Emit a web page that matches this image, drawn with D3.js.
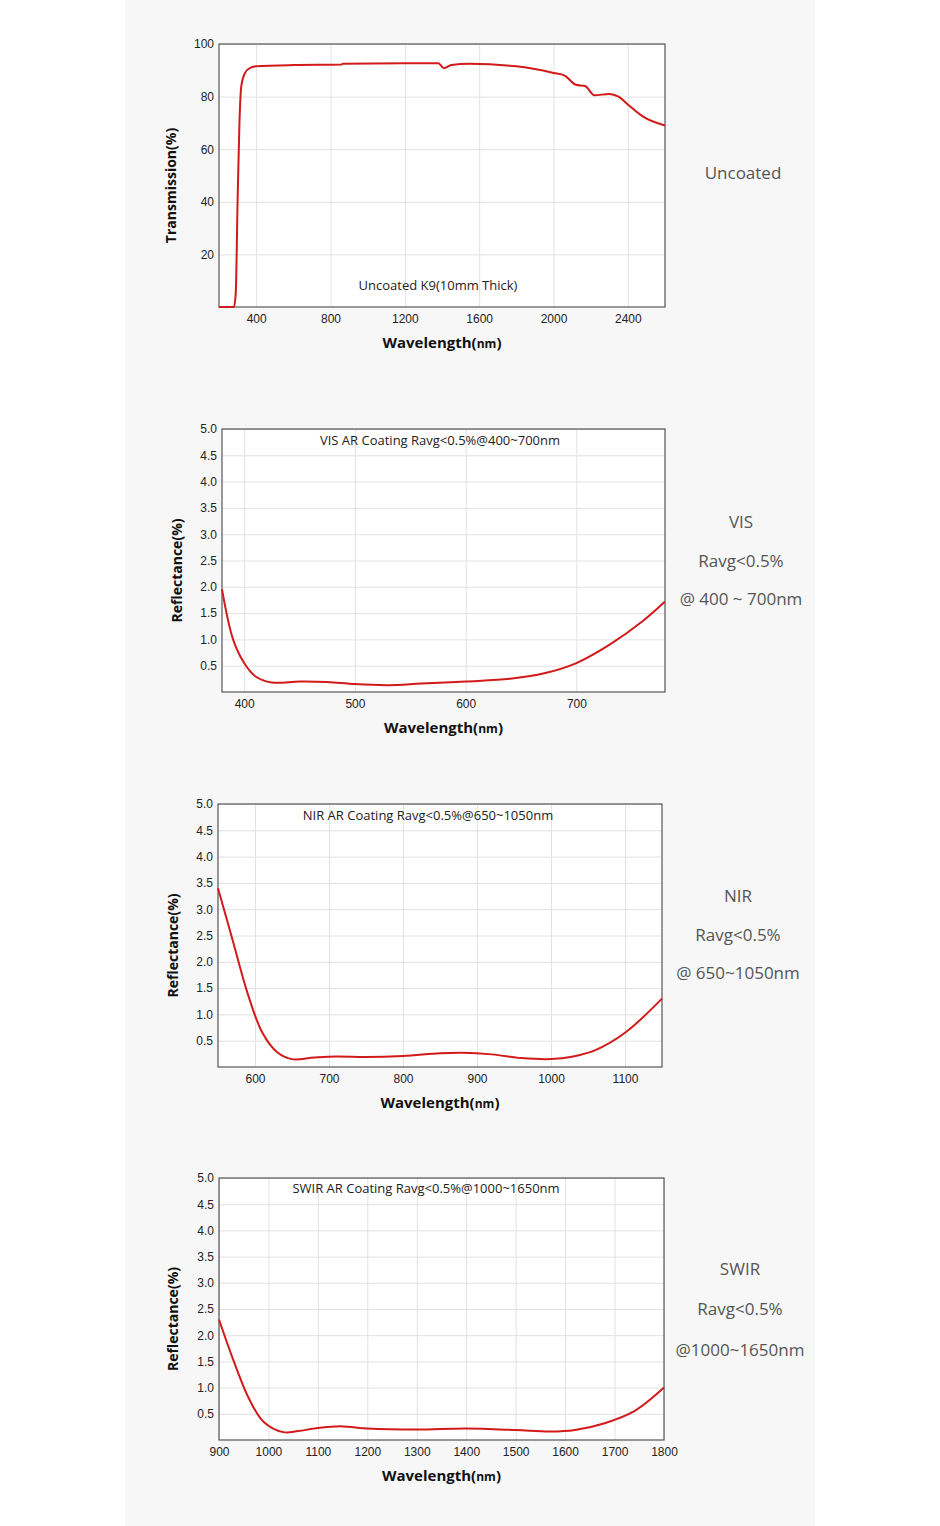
<!DOCTYPE html>
<html><head><meta charset="utf-8">
<script src="https://cdn.jsdelivr.net/npm/d3@7"></script>
<style>body{margin:0;background:#fff}</style></head>
<body><svg id="c" width="940" height="1526"></svg>
<script>
const uncoatedWl = [200,280,290,300,310,320,340,370,400,600,860,865,1200,1380,1410,1450,1550,1800,2000,2060,2120,2170,2220,2300,2350,2400,2480,2600];
const uncoatedT  = [0,0,5,40,70,84,89,91,91.5,92,92.2,92.5,92.7,92.7,90.8,92,92.5,91.5,89,88,84.5,84,80.5,81,80,77,72.5,69];
const visWl = [380,390,400,410,425,450,475,500,530,560,600,640,670,700,730,760,780];
const visR  = [1.95,1.0,0.55,0.3,0.18,0.2,0.19,0.15,0.13,0.16,0.2,0.25,0.35,0.55,0.9,1.35,1.72];
const nirWl = [550,570,590,610,630,650,680,710,750,800,850,880,920,960,1000,1030,1060,1100,1150];
const nirR  = [3.4,2.4,1.4,0.65,0.28,0.15,0.18,0.2,0.19,0.21,0.26,0.27,0.24,0.17,0.15,0.2,0.32,0.65,1.3];
const swirWl = [900,930,960,990,1030,1060,1100,1150,1200,1300,1400,1500,1570,1620,1680,1740,1800];
const swirR  = [2.3,1.5,0.8,0.35,0.15,0.17,0.23,0.26,0.22,0.2,0.22,0.19,0.16,0.19,0.32,0.55,1.0];
const transTicks = [20,40,60,80,100];
const reflTicks = [0.5,1,1.5,2,2.5,3,3.5,4,4.5,5];

const svg = d3.select("#c");
svg.append("rect").attr("x",125).attr("y",0).attr("width",690).attr("height",1526).attr("fill","#f7f7f7");

const charts = [
 {wl:uncoatedWl,v:uncoatedT,xd:[200,2600],yd:[0,100],xt:[400,800,1200,1600,2000,2400],yt:transTicks,fmt:d3.format("d"),
  box:[219,44,665,307],ytitle:"Transmission(%)",inner:"Uncoated K9(10mm Thick)",innerY:290,innerX:438,curve:d3.curveMonotoneX,
  side:[["Uncoated",173]],sideX:743,ytx:176},
 {wl:visWl,v:visR,xd:[380,780],yd:[0,5],xt:[400,500,600,700],yt:reflTicks,fmt:d3.format(".1f"),
  box:[222,429,665,692],ytitle:"Reflectance(%)",inner:"VIS AR Coating Ravg<0.5%@400~700nm",innerY:445,innerX:440,curve:d3.curveCatmullRom,
  side:[["VIS",522],["Ravg<0.5%",561],["@ 400 ~ 700nm",599]],sideX:741,ytx:182},
 {wl:nirWl,v:nirR,xd:[550,1150],yd:[0,5],xt:[600,700,800,900,1000,1100],yt:reflTicks,fmt:d3.format(".1f"),
  box:[218,804,662,1067],ytitle:"Reflectance(%)",inner:"NIR AR Coating Ravg<0.5%@650~1050nm",innerY:820,innerX:428,curve:d3.curveCatmullRom,
  side:[["NIR",896],["Ravg<0.5%",935],["@ 650~1050nm",973]],sideX:738,ytx:178},
 {wl:swirWl,v:swirR,xd:[900,1800],yd:[0,5],xt:[900,1000,1100,1200,1300,1400,1500,1600,1700,1800],yt:reflTicks,fmt:d3.format(".1f"),
  box:[219,1178,664,1440],ytitle:"Reflectance(%)",inner:"SWIR AR Coating Ravg<0.5%@1000~1650nm",innerY:1193,innerX:426,curve:d3.curveCatmullRom,
  side:[["SWIR",1269],["Ravg<0.5%",1309],["@1000~1650nm",1350]],sideX:740,ytx:178}
];

charts.forEach(c=>{
  const [x0,y0,x1,y1]=c.box;
  const x=d3.scaleLinear().domain(c.xd).range([x0,x1]);
  const y=d3.scaleLinear().domain(c.yd).range([y1,y0]);
  const g=svg.append("g");
  g.append("rect").attr("x",x0).attr("y",y0).attr("width",x1-x0).attr("height",y1-y0).attr("fill","#fff");
  g.append("g").attr("transform",`translate(0,${y1})`).call(d3.axisBottom(x).tickValues(c.xt).tickSize(-(y1-y0)).tickFormat(""))
   .call(a=>{a.select(".domain").remove();a.selectAll("line").attr("stroke","#e2e2e2");});
  g.append("g").attr("transform",`translate(${x0},0)`).call(d3.axisLeft(y).tickValues(c.yt).tickSize(-(x1-x0)).tickFormat(""))
   .call(a=>{a.select(".domain").remove();a.selectAll("line").attr("stroke","#e2e2e2");});
  g.append("g").attr("transform",`translate(0,${y1})`).call(d3.axisBottom(x).tickValues(c.xt).tickSize(0).tickPadding(7).tickFormat(d3.format("d")))
   .call(a=>{a.select(".domain").remove();a.selectAll("text").attr("font-family","Liberation Sans, Arial").attr("font-size",12).attr("fill","#222");});
  g.append("g").attr("transform",`translate(${x0},0)`).call(d3.axisLeft(y).tickValues(c.yt).tickSize(0).tickPadding(5).tickFormat(c.fmt))
   .call(a=>{a.select(".domain").remove();a.selectAll("text").attr("font-family","Liberation Sans, Arial").attr("font-size",12).attr("fill","#222");});
  g.append("rect").attr("x",x0).attr("y",y0).attr("width",x1-x0).attr("height",y1-y0).attr("fill","none").attr("stroke","#555").attr("stroke-width",1.2);
  const pts=c.wl.map((w,i)=>[w,c.v[i]]);
  g.append("path").datum(pts).attr("fill","none").attr("stroke","#d21a1a").attr("stroke-width",2)
   .attr("d",d3.line().x(d=>x(d[0])).y(d=>y(d[1])).curve(c.curve));
  g.append("text").attr("x",c.innerX).attr("y",c.innerY).attr("text-anchor","middle").attr("font-family","Open Sans").attr("font-size",13).attr("fill","#222").text(c.inner);
  const xt=g.append("text").attr("x",(x0+x1)/2).attr("y",y1+41).attr("text-anchor","middle").attr("font-family","Open Sans").attr("font-weight","bold").attr("font-size",15).attr("fill","#111");
  xt.append("tspan").text("Wavelength(");
  xt.append("tspan").attr("font-size",12).text("nm");
  xt.append("tspan").text(")");
  g.append("text").attr("transform",`translate(${c.ytx},${(y0+y1)/2+10}) rotate(-90)`).attr("text-anchor","middle")
   .attr("font-family","Open Sans").attr("font-weight","bold").attr("font-size",14).attr("fill","#111").text(c.ytitle);
  c.side.forEach(([t,yy])=>g.append("text").attr("x",c.sideX).attr("y",yy+6).attr("text-anchor","middle").attr("font-family","Open Sans").attr("font-size",17).attr("fill","#555").text(t));
});
</script></body></html>
